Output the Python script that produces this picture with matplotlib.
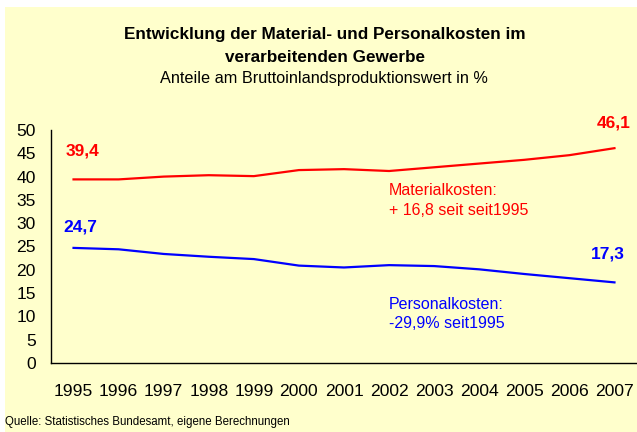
import numpy as np
import matplotlib.pyplot as plt
from matplotlib.patches import Rectangle

plt.rcParams['font.family'] = ['Liberation Sans', 'DejaVu Sans']

years = ['1995', '1996', '1997', '1998', '1999', '2000', '2001',
         '2002', '2003', '2004', '2005', '2006', '2007']
material = [39.4, 39.4, 40.0, 40.3, 40.1, 41.4, 41.6, 41.2, 42.0, 42.8, 43.6, 44.6, 46.1]
personal = [24.7, 24.4, 23.4, 22.8, 22.3, 20.9, 20.5, 21.0, 20.8, 20.1, 19.1, 18.2, 17.3]

bg = '#FFFFCC'
W, H = 637, 432

fig = plt.figure(figsize=(6.37, 4.32), dpi=100, facecolor='white')
fig.patches.append(Rectangle((5 / W, 0), 1, (H - 7) / H, transform=fig.transFigure,
                             facecolor=bg, edgecolor='none', zorder=-1))

ax = fig.add_axes([51 / W, (H - 363) / H, 1 - 51 / W, (363 - 130) / H])
ax.set_facecolor(bg)
ax.patch.set_alpha(0)

x = np.arange(len(years))
ax.plot(x, material, color='#FF0000', lw=1.6)
ax.plot(x, personal, color='#0000FF', lw=1.6)

ax.set_xlim(-0.5, len(years) - 0.5)
ax.set_ylim(0, 50)
ax.set_yticks(np.arange(0, 51, 5))
ax.set_xticks(x)
ax.set_xticklabels(years)
ax.tick_params(axis='both', length=0, labelsize=12.6)
ax.tick_params(axis='y', pad=11)
ax.tick_params(axis='x', pad=15)
for s in ['top', 'right']:
    ax.spines[s].set_visible(False)
for s in ['left', 'bottom']:
    ax.spines[s].set_linewidth(1.0)
    ax.spines[s].set_color('black')

# value labels
ax.text(0.2, material[0] + 6.2, '39,4', color='#FF0000', fontsize=12.5, fontweight='bold',
        ha='center', va='center')
ax.text(0.15, personal[0] + 4.4, '24,7', color='#0000FF', fontsize=12.5, fontweight='bold',
        ha='center', va='center')
ax.text(11.98, material[-1] + 5.3, '46,1', color='#FF0000', fontsize=12.5, fontweight='bold',
        ha='center', va='center')
ax.text(11.85, personal[-1] + 6.0, '17,3', color='#0000FF', fontsize=12.5, fontweight='bold',
        ha='center', va='center')

ax.text(6.99, 34.8, 'Materialkosten:\n+ 16,8 seit seit1995', color='#FF0000', fontsize=11.5,
        ha='left', va='center', linespacing=1.4)
ax.text(6.99, 10.5, 'Personalkosten:\n-29,9% seit1995', color='#0000FF', fontsize=11.5,
        ha='left', va='center', linespacing=1.4)

fig.text(325 / W, 1 - 34 / H, 'Entwicklung der Material- und Personalkosten im',
         ha='center', va='center', fontsize=12.3, fontweight='bold')
fig.text(325 / W, 1 - 57 / H, 'verarbeitenden Gewerbe',
         ha='center', va='center', fontsize=12.3, fontweight='bold')
fig.text(324 / W, 1 - 79 / H, 'Anteile am Bruttoinlandsproduktionswert in %',
         ha='center', va='center', fontsize=11.7)
fig.text(5 / W, 1 - 422 / H, 'Quelle: Statistisches Bundesamt, eigene Berechnungen',
         ha='left', va='center', fontsize=8.3)

fig.savefig('out.png', dpi=100, facecolor='white')
